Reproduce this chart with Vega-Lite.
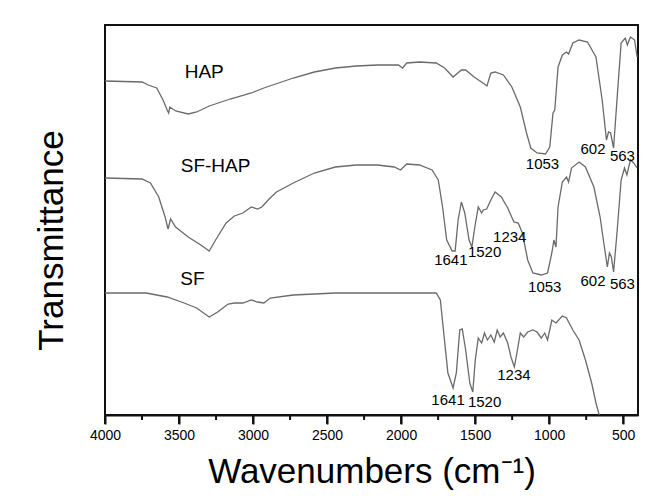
{
  "$schema": "https://vega.github.io/schema/vega-lite/v6.json",
  "width": 533,
  "height": 390,
  "autosize": "none",
  "padding": {"left": 105, "top": 25, "right": 21, "bottom": 81},
  "background": "white",
  "config": {
    "view": {"stroke": "#111111", "strokeWidth": 2},
    "font": "Liberation Sans"
  },
  "datasets": {
    "spectra": [
      {"s":"HAP","wn":4000,"t":334},{"s":"HAP","wn":3750,"t":333},{"s":"HAP","wn":3708,"t":330},{"s":"HAP","wn":3651,"t":327},{"s":"HAP","wn":3608,"t":315},{"s":"HAP","wn":3580,"t":305},{"s":"HAP","wn":3570,"t":302},{"s":"HAP","wn":3562,"t":308},{"s":"HAP","wn":3523,"t":304},{"s":"HAP","wn":3438,"t":301},{"s":"HAP","wn":3381,"t":303},{"s":"HAP","wn":3296,"t":309},{"s":"HAP","wn":3154,"t":316},{"s":"HAP","wn":3012,"t":322},{"s":"HAP","wn":2927,"t":327},{"s":"HAP","wn":2728,"t":337},{"s":"HAP","wn":2586,"t":343},{"s":"HAP","wn":2444,"t":347},{"s":"HAP","wn":2302,"t":349},{"s":"HAP","wn":2160,"t":350},{"s":"HAP","wn":2018,"t":350},{"s":"HAP","wn":1990,"t":347},{"s":"HAP","wn":1962,"t":352},{"s":"HAP","wn":1876,"t":353},{"s":"HAP","wn":1763,"t":352},{"s":"HAP","wn":1706,"t":347},{"s":"HAP","wn":1649,"t":338},{"s":"HAP","wn":1593,"t":345},{"s":"HAP","wn":1564,"t":345},{"s":"HAP","wn":1507,"t":338},{"s":"HAP","wn":1437,"t":331},{"s":"HAP","wn":1420,"t":329},{"s":"HAP","wn":1394,"t":342},{"s":"HAP","wn":1365,"t":343},{"s":"HAP","wn":1309,"t":340},{"s":"HAP","wn":1252,"t":328},{"s":"HAP","wn":1195,"t":308},{"s":"HAP","wn":1153,"t":282},{"s":"HAP","wn":1124,"t":267},{"s":"HAP","wn":1082,"t":262},{"s":"HAP","wn":1025,"t":261},{"s":"HAP","wn":996,"t":268},{"s":"HAP","wn":974,"t":302},{"s":"HAP","wn":962,"t":305},{"s":"HAP","wn":940,"t":348},{"s":"HAP","wn":911,"t":360},{"s":"HAP","wn":883,"t":363},{"s":"HAP","wn":869,"t":361},{"s":"HAP","wn":840,"t":372},{"s":"HAP","wn":798,"t":375},{"s":"HAP","wn":741,"t":373},{"s":"HAP","wn":684,"t":358},{"s":"HAP","wn":642,"t":315},{"s":"HAP","wn":613,"t":275},{"s":"HAP","wn":599,"t":283},{"s":"HAP","wn":585,"t":282},{"s":"HAP","wn":565,"t":267},{"s":"HAP","wn":542,"t":315},{"s":"HAP","wn":514,"t":372},{"s":"HAP","wn":486,"t":377},{"s":"HAP","wn":472,"t":370},{"s":"HAP","wn":451,"t":378},{"s":"HAP","wn":423,"t":375},{"s":"HAP","wn":406,"t":358},

      {"s":"SF-HAP","wn":4000,"t":237},{"s":"SF-HAP","wn":3750,"t":236},{"s":"SF-HAP","wn":3693,"t":232},{"s":"SF-HAP","wn":3637,"t":218},{"s":"SF-HAP","wn":3594,"t":198},{"s":"SF-HAP","wn":3574,"t":186},{"s":"SF-HAP","wn":3557,"t":196},{"s":"SF-HAP","wn":3523,"t":188},{"s":"SF-HAP","wn":3438,"t":178},{"s":"SF-HAP","wn":3353,"t":170},{"s":"SF-HAP","wn":3296,"t":164},{"s":"SF-HAP","wn":3253,"t":175},{"s":"SF-HAP","wn":3182,"t":192},{"s":"SF-HAP","wn":3126,"t":199},{"s":"SF-HAP","wn":3069,"t":202},{"s":"SF-HAP","wn":3012,"t":208},{"s":"SF-HAP","wn":2970,"t":206},{"s":"SF-HAP","wn":2941,"t":208},{"s":"SF-HAP","wn":2898,"t":215},{"s":"SF-HAP","wn":2842,"t":223},{"s":"SF-HAP","wn":2728,"t":232},{"s":"SF-HAP","wn":2586,"t":242},{"s":"SF-HAP","wn":2444,"t":248},{"s":"SF-HAP","wn":2302,"t":250},{"s":"SF-HAP","wn":2160,"t":250},{"s":"SF-HAP","wn":2047,"t":248},{"s":"SF-HAP","wn":2004,"t":245},{"s":"SF-HAP","wn":1962,"t":251},{"s":"SF-HAP","wn":1876,"t":250},{"s":"SF-HAP","wn":1791,"t":245},{"s":"SF-HAP","wn":1749,"t":235},{"s":"SF-HAP","wn":1720,"t":208},{"s":"SF-HAP","wn":1692,"t":175},{"s":"SF-HAP","wn":1655,"t":164},{"s":"SF-HAP","wn":1635,"t":164},{"s":"SF-HAP","wn":1615,"t":195},{"s":"SF-HAP","wn":1593,"t":213},{"s":"SF-HAP","wn":1570,"t":202},{"s":"SF-HAP","wn":1541,"t":175},{"s":"SF-HAP","wn":1522,"t":168},{"s":"SF-HAP","wn":1502,"t":188},{"s":"SF-HAP","wn":1479,"t":208},{"s":"SF-HAP","wn":1456,"t":202},{"s":"SF-HAP","wn":1445,"t":205},{"s":"SF-HAP","wn":1422,"t":206},{"s":"SF-HAP","wn":1394,"t":215},{"s":"SF-HAP","wn":1365,"t":223},{"s":"SF-HAP","wn":1323,"t":218},{"s":"SF-HAP","wn":1280,"t":207},{"s":"SF-HAP","wn":1238,"t":193},{"s":"SF-HAP","wn":1209,"t":192},{"s":"SF-HAP","wn":1181,"t":182},{"s":"SF-HAP","wn":1145,"t":155},{"s":"SF-HAP","wn":1110,"t":142},{"s":"SF-HAP","wn":1053,"t":140},{"s":"SF-HAP","wn":1011,"t":142},{"s":"SF-HAP","wn":982,"t":162},{"s":"SF-HAP","wn":968,"t":175},{"s":"SF-HAP","wn":954,"t":168},{"s":"SF-HAP","wn":940,"t":208},{"s":"SF-HAP","wn":911,"t":233},{"s":"SF-HAP","wn":883,"t":238},{"s":"SF-HAP","wn":869,"t":233},{"s":"SF-HAP","wn":849,"t":247},{"s":"SF-HAP","wn":798,"t":253},{"s":"SF-HAP","wn":755,"t":248},{"s":"SF-HAP","wn":698,"t":228},{"s":"SF-HAP","wn":656,"t":198},{"s":"SF-HAP","wn":627,"t":168},{"s":"SF-HAP","wn":607,"t":148},{"s":"SF-HAP","wn":593,"t":162},{"s":"SF-HAP","wn":580,"t":158},{"s":"SF-HAP","wn":565,"t":143},{"s":"SF-HAP","wn":542,"t":182},{"s":"SF-HAP","wn":514,"t":235},{"s":"SF-HAP","wn":491,"t":247},{"s":"SF-HAP","wn":475,"t":240},{"s":"SF-HAP","wn":451,"t":255},{"s":"SF-HAP","wn":429,"t":252},{"s":"SF-HAP","wn":406,"t":247},

      {"s":"SF","wn":4000,"t":122},{"s":"SF","wn":3722,"t":122},{"s":"SF","wn":3580,"t":118},{"s":"SF","wn":3466,"t":112},{"s":"SF","wn":3381,"t":107},{"s":"SF","wn":3296,"t":98},{"s":"SF","wn":3239,"t":103},{"s":"SF","wn":3168,"t":111},{"s":"SF","wn":3126,"t":112},{"s":"SF","wn":3069,"t":112},{"s":"SF","wn":3012,"t":115},{"s":"SF","wn":2970,"t":113},{"s":"SF","wn":2927,"t":112},{"s":"SF","wn":2884,"t":117},{"s":"SF","wn":2728,"t":120},{"s":"SF","wn":2444,"t":122},{"s":"SF","wn":2160,"t":122},{"s":"SF","wn":1876,"t":122},{"s":"SF","wn":1763,"t":122},{"s":"SF","wn":1735,"t":115},{"s":"SF","wn":1712,"t":82},{"s":"SF","wn":1684,"t":42},{"s":"SF","wn":1649,"t":27},{"s":"SF","wn":1627,"t":42},{"s":"SF","wn":1604,"t":85},{"s":"SF","wn":1587,"t":86},{"s":"SF","wn":1564,"t":65},{"s":"SF","wn":1536,"t":32},{"s":"SF","wn":1516,"t":23},{"s":"SF","wn":1499,"t":55},{"s":"SF","wn":1479,"t":77},{"s":"SF","wn":1456,"t":72},{"s":"SF","wn":1437,"t":82},{"s":"SF","wn":1417,"t":75},{"s":"SF","wn":1394,"t":80},{"s":"SF","wn":1371,"t":73},{"s":"SF","wn":1351,"t":85},{"s":"SF","wn":1331,"t":78},{"s":"SF","wn":1309,"t":82},{"s":"SF","wn":1280,"t":72},{"s":"SF","wn":1258,"t":58},{"s":"SF","wn":1235,"t":48},{"s":"SF","wn":1218,"t":62},{"s":"SF","wn":1195,"t":82},{"s":"SF","wn":1172,"t":78},{"s":"SF","wn":1145,"t":83},{"s":"SF","wn":1110,"t":85},{"s":"SF","wn":1082,"t":83},{"s":"SF","wn":1053,"t":77},{"s":"SF","wn":1030,"t":82},{"s":"SF","wn":1011,"t":75},{"s":"SF","wn":982,"t":95},{"s":"SF","wn":954,"t":92},{"s":"SF","wn":911,"t":99},{"s":"SF","wn":883,"t":97},{"s":"SF","wn":840,"t":85},{"s":"SF","wn":798,"t":75},{"s":"SF","wn":755,"t":55},{"s":"SF","wn":713,"t":32},{"s":"SF","wn":684,"t":12},{"s":"SF","wn":662,"t":0}
    ],
    "labels": [
      {"txt":"HAP","wn":3330,"t":343,"sz":19},
      {"txt":"SF-HAP","wn":3253,"t":249,"sz":19},
      {"txt":"SF","wn":3410,"t":136,"sz":19},
      {"txt":"1053","wn":1045,"t":251,"sz":15},
      {"txt":"602","wn":704,"t":266,"sz":15},
      {"txt":"563","wn":505,"t":259,"sz":15},
      {"txt":"1641","wn":1664,"t":155,"sz":15},
      {"txt":"1520","wn":1436,"t":163,"sz":15},
      {"txt":"1234","wn":1266,"t":178,"sz":15},
      {"txt":"1053","wn":1030,"t":128,"sz":15},
      {"txt":"602","wn":704,"t":134,"sz":15},
      {"txt":"563","wn":505,"t":131,"sz":15},
      {"txt":"1234","wn":1238,"t":40,"sz":15},
      {"txt":"1641","wn":1683,"t":15,"sz":15},
      {"txt":"1520","wn":1436,"t":13,"sz":15}
    ],
    "major": [{"wn":4000},{"wn":3500},{"wn":3000},{"wn":2500},{"wn":2000},{"wn":1500},{"wn":1000},{"wn":500}],
    "minor": [{"wn":3750},{"wn":3250},{"wn":2750},{"wn":2250},{"wn":1750},{"wn":1250},{"wn":750}]
  },
  "layer": [
    {
      "data": {"name": "spectra"},
      "mark": {"type": "line", "stroke": "#6a6a6a", "strokeWidth": 1.3, "clip": true},
      "encoding": {
        "x": {
          "field": "wn", "type": "quantitative",
          "scale": {"domain": [4000, 400], "nice": false, "zero": false},
          "axis": {
            "orient": "bottom",
            "values": [4000,3500,3000,2500,2000,1500,1000,500],
            "format": "d",
            "ticks": true,
            "tickSize": 9,
            "tickColor": "#111111", "tickWidth": 2, "tickOpacity": 1,
            "domainColor": "#111111", "domainWidth": 2,
            "grid": false,
            "labelFlush": false, "labelOverlap": false,
            "labelFontSize": 14, "labelColor": "black", "labelPadding": 4,
            "labelFont": "Liberation Sans",
            "title": "Wavenumbers (cm⁻¹)",
            "titleFontSize": 35, "titleFontWeight": "normal", "titleColor": "black",
            "titleFont": "Liberation Sans", "titlePadding": 12
          }
        },
        "y": {
          "field": "t", "type": "quantitative",
          "scale": {"domain": [0, 390], "nice": false, "zero": false},
          "axis": {
            "labels": false, "ticks": false, "domain": false, "grid": false,
            "title": "Transmittance",
            "titleFontSize": 35, "titleFontWeight": "normal", "titleColor": "black",
            "titleFont": "Liberation Sans", "titlePadding": 36, "titleY": 215
          }
        },
        "detail": {"field": "s"}
      }
    },
    {
      "data": {"name": "major"},
      "mark": {"type": "rule", "color": "#111111", "strokeWidth": 2, "clip": false},
      "encoding": {
        "x": {"field": "wn", "type": "quantitative"},
        "y": {"datum": 0},
        "y2": {"datum": -9}
      }
    },
    {
      "data": {"name": "minor"},
      "mark": {"type": "rule", "color": "#111111", "strokeWidth": 2, "clip": false},
      "encoding": {
        "x": {"field": "wn", "type": "quantitative"},
        "y": {"datum": 0},
        "y2": {"datum": -5}
      }
    },
    {
      "data": {"name": "labels"},
      "mark": {"type": "text", "color": "black", "font": "Liberation Sans", "align": "center", "baseline": "middle"},
      "encoding": {
        "x": {"field": "wn", "type": "quantitative"},
        "y": {"field": "t", "type": "quantitative"},
        "text": {"field": "txt"},
        "size": {"field": "sz", "type": "quantitative", "scale": null}
      }
    }
  ]
}
